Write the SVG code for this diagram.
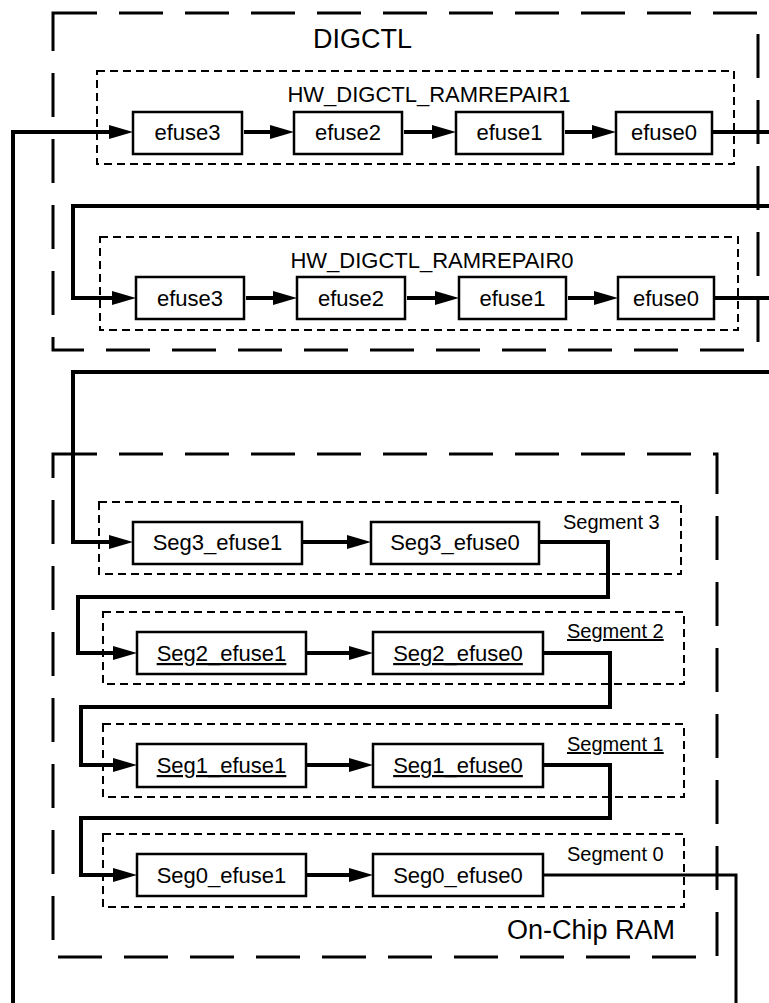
<svg xmlns="http://www.w3.org/2000/svg" width="769" height="1003" viewBox="0 0 769 1003">
<style>
.outer{fill:none;stroke:#000;stroke-width:3;stroke-dasharray:44 22}
.inner{fill:none;stroke:#000;stroke-width:2;stroke-dasharray:8 5}
.box{fill:#fff;stroke:#000;stroke-width:2.5}
.t{font-family:"Liberation Sans",Arial,sans-serif;font-size:22px;fill:#000;text-anchor:middle}
.big{font-family:"Liberation Sans",Arial,sans-serif;font-size:27px;fill:#000}
.lbl{font-family:"Liberation Sans",Arial,sans-serif;font-size:20px;fill:#000}
.u{text-decoration:underline}
.w{fill:none;stroke:#000;stroke-width:4;stroke-linejoin:miter}
.w3{fill:none;stroke:#000;stroke-width:3}
</style>
<defs>
<marker id="ah" markerUnits="userSpaceOnUse" markerWidth="24" markerHeight="16" refX="4" refY="8" orient="auto" viewBox="0 0 24 16">
<path d="M0,1 L24,8 L0,15 Z" fill="#000"/>
</marker>
</defs>
<g id="digctl">
<rect class="outer" x="53" y="13" width="705" height="337"/>
<text class="big" x="313" y="48">DIGCTL</text>
</g>
<g id="ramrepair1">
<rect class="inner" x="97" y="71" width="637" height="93"/>
<text class="t" x="429" y="102">HW_DIGCTL_RAMREPAIR1</text>
</g>
<g id="ramrepair0">
<rect class="inner" x="100" y="237" width="638" height="93"/>
<text class="t" x="432" y="268">HW_DIGCTL_RAMREPAIR0</text>
</g>
<g id="onchipram">
<rect class="outer" x="53" y="454" width="664" height="503"/>
<text class="big" x="507" y="939">On-Chip RAM</text>
</g>
<g id="segment3">
<rect class="inner" x="99" y="502" width="582" height="72"/>
<text class="lbl" x="563" y="529">Segment 3</text>
</g>
<g id="segment2">
<rect class="inner" x="103" y="612" width="581" height="72"/>
<text class="lbl u" x="567" y="638">Segment 2</text>
</g>
<g id="segment1">
<rect class="inner" x="103" y="724" width="581" height="73"/>
<text class="lbl u" x="567" y="751">Segment 1</text>
</g>
<g id="segment0">
<rect class="inner" x="103" y="834" width="581" height="73"/>
<text class="lbl" x="567" y="861">Segment 0</text>
</g>
<g id="connectors">
<path class="w" d="M13,1003 V132 H113" marker-end="url(#ah)"/>
<path class="w" d="M244,132 H274" marker-end="url(#ah)"/>
<path class="w" d="M404,132 H436" marker-end="url(#ah)"/>
<path class="w" d="M565,132 H596" marker-end="url(#ah)"/>
<path class="w" d="M712,132 H769"/>
<path class="w" d="M769,206 H73 V298 H116" marker-end="url(#ah)"/>
<path class="w" d="M246,298 H277" marker-end="url(#ah)"/>
<path class="w" d="M407,298 H439" marker-end="url(#ah)"/>
<path class="w" d="M568,298 H598" marker-end="url(#ah)"/>
<path class="w" d="M714,298 H769"/>
<path class="w" d="M769,372 H73 V542 H113" marker-end="url(#ah)"/>
<path class="w" d="M303,542 H351" marker-end="url(#ah)"/>
<path class="w" d="M539,542 H608 V597 H78 V653 H117" marker-end="url(#ah)"/>
<path class="w" d="M307,653 H353" marker-end="url(#ah)"/>
<path class="w" d="M543,653 H610 V707 H81 V765 H117" marker-end="url(#ah)"/>
<path class="w" d="M307,765 H353" marker-end="url(#ah)"/>
<path class="w" d="M543,765 H610 V818 H81 V875 H117" marker-end="url(#ah)"/>
<path class="w" d="M307,875 H353" marker-end="url(#ah)"/>
<path class="w3" d="M543,875 H736 V1003"/>
</g>
<g id="r1_efuse3"><rect class="box" x="133" y="112" width="109" height="42"/><text class="t" x="187.5" y="140">efuse3</text></g>
<g id="r1_efuse2"><rect class="box" x="294" y="112" width="108" height="42"/><text class="t" x="348" y="140">efuse2</text></g>
<g id="r1_efuse1"><rect class="box" x="456" y="112" width="107" height="42"/><text class="t" x="509.5" y="140">efuse1</text></g>
<g id="r1_efuse0"><rect class="box" x="616" y="112" width="96" height="42"/><text class="t" x="664" y="140">efuse0</text></g>
<g id="r0_efuse3"><rect class="box" x="136" y="277" width="108" height="42"/><text class="t" x="190" y="306">efuse3</text></g>
<g id="r0_efuse2"><rect class="box" x="297" y="277" width="108" height="42"/><text class="t" x="351" y="306">efuse2</text></g>
<g id="r0_efuse1"><rect class="box" x="459" y="277" width="107" height="42"/><text class="t" x="512.5" y="306">efuse1</text></g>
<g id="r0_efuse0"><rect class="box" x="618" y="277" width="96" height="42"/><text class="t" x="666" y="306">efuse0</text></g>
<g id="seg3_efuse1"><rect class="box" x="133" y="522" width="169" height="42"/><text class="t" x="217.5" y="550">Seg3_efuse1</text></g>
<g id="seg3_efuse0"><rect class="box" x="371" y="522" width="168" height="42"/><text class="t" x="455" y="550">Seg3_efuse0</text></g>
<g id="seg2_efuse1"><rect class="box" x="137" y="632" width="169" height="42"/><text class="t u" x="221.5" y="661">Seg2_efuse1</text></g>
<g id="seg2_efuse0"><rect class="box" x="373" y="632" width="170" height="42"/><text class="t u" x="458" y="661">Seg2_efuse0</text></g>
<g id="seg1_efuse1"><rect class="box" x="137" y="744" width="169" height="43"/><text class="t u" x="221.5" y="773">Seg1_efuse1</text></g>
<g id="seg1_efuse0"><rect class="box" x="373" y="744" width="170" height="43"/><text class="t u" x="458" y="773">Seg1_efuse0</text></g>
<g id="seg0_efuse1"><rect class="box" x="137" y="854" width="169" height="42"/><text class="t" x="221.5" y="883">Seg0_efuse1</text></g>
<g id="seg0_efuse0"><rect class="box" x="373" y="854" width="170" height="42"/><text class="t" x="458" y="883">Seg0_efuse0</text></g>
</svg>
